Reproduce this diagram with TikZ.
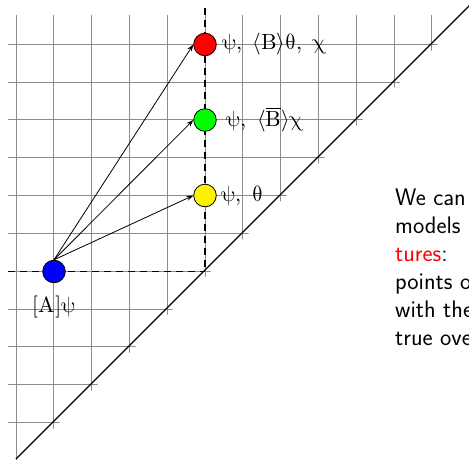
\documentclass[tikz,border=0pt]{standalone}
\usepackage{fontspec}
\usepackage[math-style=upright]{unicode-math}
\setmathfont{Latin Modern Math}
\usetikzlibrary{arrows.meta}
\begin{document}
\begin{tikzpicture}[x=1pt,y=-1pt,
  gridline/.style={draw=black!45,line width=0.8pt},
  dashline/.style={draw=black,line width=1.2pt,dash pattern=on 7pt off 5pt},
  diag/.style={draw=black,line width=1.1pt},
  world/.style={circle,draw=black,line width=0.8pt,minimum size=22.6pt,inner sep=0pt},
  arr/.style={draw=black,line width=0.8pt,-{Stealth[length=7pt,width=5pt]}},
  mlabel/.style={inner sep=0pt,font=\fontsize{22}{27}\selectfont},
  txt/.style={inner sep=0pt,anchor=base west,font=\sffamily\fontsize{24}{28}\selectfont}]
\useasboundingbox (0,0) rectangle (469,460);
% grid
\begin{scope}
  \clip (8,15) -- (467,15) -- (8,474) -- cycle;
  \foreach \i in {0,...,11} \draw[gridline] ({16+37.8*\i},15) -- ({16+37.8*\i},470);
  \foreach \j in {0,...,11} \draw[gridline] (8,{44.3+37.8*\j}) -- (470,{44.3+37.8*\j});
\end{scope}
% diagonal
\coordinate (d0) at (16,459);
\coordinate (d1) at (471,4);
\draw[diag] (d0) -- (d1);
% dashed axes
\coordinate (dtop) at (205,8);
\coordinate (corner) at (205,271.1);
\coordinate (dleft) at (8,271.1);
\draw[dashline] (dtop) -- (corner);
\draw[dashline] (dleft) -- (corner);
% worlds
\node[world,fill=red] (red) at (205,44.5) {};
\node[world,fill=green] (green) at (205,120) {};
\node[world,fill=yellow] (yellow) at (205,195.5) {};
\node[world,fill=blue] (blue) at (54,271.5) {};
% arrows
\draw[arr] (blue.north) -- (red.west);
\draw[arr] (blue.north) -- (green.west);
\draw[arr] (blue.north) -- (yellow.west);
% labels
\node[mlabel,anchor=west] (lred) at (222,44.5) {$\psi,\ \langle B\rangle\theta,\ \chi$};
\node[mlabel,anchor=west] (lgreen) at (226.5,120) {$\psi,\ \langle\overline{B}\rangle\chi$};
\node[mlabel,anchor=west] (lyellow) at (221.5,195.5) {$\psi,\ \theta$};
\node[mlabel] (lblue) at (54,307) {$[A]\psi$};
% text
\node[txt] (t1) at (395,205) {We can};
\node[txt] (t2) at (395,233) {models};
\node[txt] (t3) at (395,261) {\textcolor{red}{tures}:};
\node[txt] (t4) at (395,289) {points o};
\node[txt] (t5) at (395,317) {with the};
\node[txt] (t6) at (395,345) {true over};
\end{tikzpicture}
\end{document}
